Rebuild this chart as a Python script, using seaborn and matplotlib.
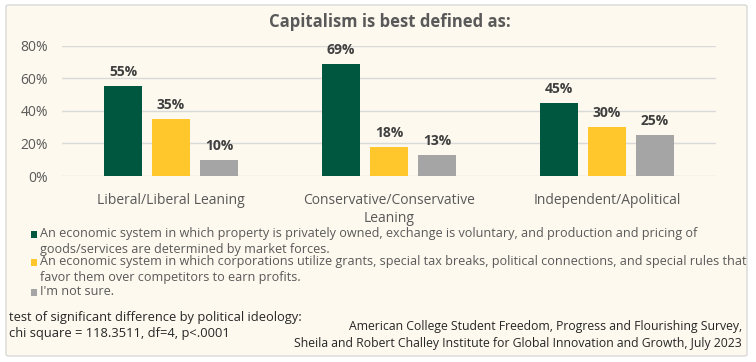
import matplotlib
matplotlib.use("Agg")
import matplotlib.pyplot as plt
from matplotlib.patches import FancyBboxPatch, Rectangle
import seaborn as sns
import pandas as pd

groups = ["Liberal/Liberal Leaning", "Conservative/Conservative\nLeaning", "Independent/Apolitical"]
responses = [
    "An economic system in which property is privately owned, exchange is voluntary, and production and pricing of\ngoods/services are determined by market forces.",
    "An economic system in which corporations utilize grants, special tax breaks, political connections, and special rules that\nfavor them over competitors to earn profits.",
    "I'm not sure.",
]
free_market = [0.55, 0.69, 0.45]
cronyism = [0.35, 0.18, 0.30]
not_sure = [0.10, 0.13, 0.25]
colors = ["#00573F", "#FFC72C", "#A5A5A5"]
yticks = [0, 0.2, 0.4, 0.6, 0.8]
title = "Capitalism is best defined as:"
note_left = "test of significant difference by political ideology:\nchi square = 118.3511, df=4, p<.0001"
note_right = "American College Student Freedom, Progress and Flourishing Survey,\nSheila and Robert Challey Institute for Global Innovation and Growth, July 2023"

BASE = "Open Sans"
GRAY = "#595959"

rows = []
for vals, r in zip([free_market, cronyism, not_sure], responses):
    for g, v in zip(groups, vals):
        rows.append({"group": g, "response": r, "value": v})
df = pd.DataFrame(rows)

W, H = 756, 362
fig = plt.figure(figsize=(W / 100, H / 100), dpi=100)
fig.patch.set_facecolor("white")
box = FancyBboxPatch((6 / W, 1 - 356 / H), 741 / W, 351 / H,
                     boxstyle="round,pad=0,rounding_size=0.004",
                     transform=fig.transFigure, facecolor="#FDF9EE",
                     edgecolor="#D9D9D9", linewidth=1.0, zorder=-5)
fig.patches.append(box)

ax = fig.add_axes([62 / W, 1 - 176 / H, (716 - 62) / W, (176 - 45.7) / H])
ax.set_zorder(2)
ax.set_facecolor("none")
sns.barplot(data=df, x="group", y="value", hue="response", palette=colors,
            width=0.66, gap=0.21, ax=ax, legend=False, saturation=1)

ax.set_ylim(0, 0.8)
ax.set_xlim(-0.5, 2.5)
ax.set_yticks(yticks)
ax.set_yticklabels([f"{int(round(t * 100))}%" for t in yticks],
                   fontfamily=BASE, fontsize=10, color=GRAY)
ax.set_xticks(range(len(groups)))
ax.set_xticklabels(groups, fontfamily=BASE, fontsize=10, color=GRAY,
                   linespacing=1.3)
ax.tick_params(axis="both", length=0)
ax.tick_params(axis="y", pad=10)
ax.tick_params(axis="x", pad=12)
ax.set_xlabel("")
ax.set_ylabel("")
ax.grid(axis="y", color="#D9D9D9", linewidth=1)
ax.set_axisbelow(True)
for s in ax.spines.values():
    s.set_visible(False)

for cont in ax.containers:
    ax.bar_label(cont, labels=[f"{v:.0%}" for v in cont.datavalues], padding=5,
                 fontfamily=BASE, fontweight="bold", fontsize=10, color="#404040")

fig.text(390 / W, 1 - 22 / H, title, ha="center", va="center", fontfamily=BASE,
         fontweight="bold", fontsize=12, color=GRAY)

# legend
tops = [227, 255, 285]
for r, c, t in zip(responses, colors, tops):
    fig.patches.append(Rectangle((31 / W, 1 - (t + 11) / H), 6 / W, 7 / H,
                                 transform=fig.transFigure, facecolor=c,
                                 edgecolor="none", zorder=1))
    fig.text(40 / W, 1 - t / H, r, ha="left", va="top", fontfamily=BASE,
             fontsize=9.1, color=GRAY, linespacing=1.25)

fig.text(9 / W, 1 - 311 / H, note_left, ha="left", va="top", fontfamily=BASE,
         fontsize=9.3, color="#262626", linespacing=1.3)
fig.text(742 / W, 1 - 320 / H, note_right, ha="right", va="top", fontfamily=BASE,
         fontsize=8.85, color="#262626", linespacing=1.35, multialignment="right")

fig.savefig("out.png", dpi=100, facecolor=fig.get_facecolor())
